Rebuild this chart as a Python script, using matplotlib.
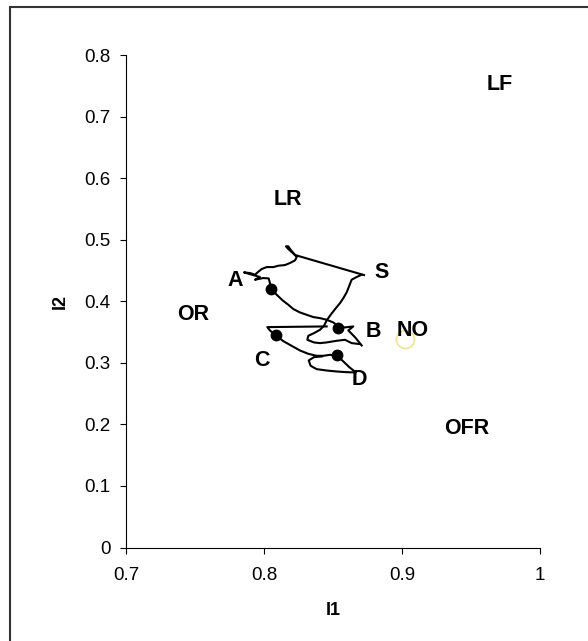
import numpy as np
import matplotlib.pyplot as plt
from matplotlib.patches import Rectangle
from matplotlib.ticker import FuncFormatter

plt.rcParams['font.family'] = ['Liberation Sans', 'DejaVu Sans']

# trajectory pieces (I1, I2)
seg1_i1 = [0.8725, 0.8225, 0.8176, 0.8159, 0.8176, 0.8193, 0.8237, 0.8225, 0.8188, 0.8152,
           0.8104, 0.8068, 0.8019, 0.7983, 0.7959, 0.7935, 0.7899, 0.7855, 0.7971, 0.7935,
           0.7995, 0.8034, 0.8043, 0.8048, 0.8092, 0.8135, 0.8176, 0.8213, 0.8261, 0.8309,
           0.8357, 0.8406, 0.8454, 0.8502, 0.8539, 0.8587, 0.8647, 0.8611, 0.8659, 0.8708]
seg1_i2 = [0.4425, 0.4751, 0.4848, 0.4892, 0.4892, 0.4837, 0.4718, 0.4664, 0.4621, 0.4588,
           0.4577, 0.4555, 0.4555, 0.4523, 0.4480, 0.4431, 0.4458, 0.4469, 0.4393, 0.4350,
           0.4377, 0.4371, 0.4295, 0.4198, 0.4106, 0.4014, 0.3943, 0.3873, 0.3818, 0.3780,
           0.3743, 0.3726, 0.3699, 0.3656, 0.3591, 0.3575, 0.3591, 0.3526, 0.3417, 0.3282]

seg2_i1 = [0.8708, 0.8671, 0.8635, 0.8618, 0.8599, 0.8575, 0.8551, 0.8515, 0.8483, 0.8454,
           0.8435, 0.8406, 0.8362, 0.8321, 0.8314, 0.8362, 0.8406, 0.8454, 0.8527, 0.8587,
           0.8635, 0.8696]
seg2_i2 = [0.4431, 0.4393, 0.4350, 0.4252, 0.4144, 0.4051, 0.3970, 0.3873, 0.3780, 0.3688,
           0.3602, 0.3537, 0.3482, 0.3439, 0.3374, 0.3331, 0.3320, 0.3331, 0.3358, 0.3374,
           0.3320, 0.3304]

seg3_i1 = [0.8454, 0.8024, 0.8043, 0.8087, 0.8140, 0.8200, 0.8261, 0.8321, 0.8382, 0.8430,
           0.8478, 0.8531, 0.8575, 0.8618, 0.8667, 0.8599, 0.8527, 0.8454, 0.8382, 0.8338,
           0.8324, 0.8362, 0.8418]
seg3_i2 = [0.3591, 0.3580, 0.3526, 0.3444, 0.3352, 0.3276, 0.3200, 0.3146, 0.3114, 0.3114,
           0.3130, 0.3114, 0.3022, 0.2929, 0.2843, 0.2848, 0.2859, 0.2875, 0.2897, 0.2951,
           0.3038, 0.3092, 0.3103]

# marked states A-D
dot_i1 = [0.8048, 0.8539, 0.8087, 0.8527]
dot_i2 = [0.4198, 0.3564, 0.3444, 0.3119]

# text labels
label_names = ['LF', 'LR', 'A', 'S', 'OR', 'B', 'NO', 'C', 'D', 'OFR']
label_i1 = [0.971, 0.8176, 0.7795, 0.8853, 0.7488, 0.8792, 0.9077, 0.7983, 0.8691, 0.947]
label_i2 = [0.752, 0.566, 0.4333, 0.4469, 0.379, 0.351, 0.3526, 0.3033, 0.2724, 0.1938]

# NO reference point
no_i1 = [0.9022]
no_i2 = [0.3385]

fig = plt.figure(figsize=(5.88, 6.41), dpi=100)
fig.patches.append(Rectangle((10 / 588, -0.5), 2, 1.5 - 7 / 641, transform=fig.transFigure,
                             fill=False, edgecolor='#333333', linewidth=1.5))
ax = fig.add_axes([126 / 588, 1 - 547.5 / 641, 414 / 588, 492.5 / 641])

for xs, ys in [(seg1_i1, seg1_i2), (seg2_i1, seg2_i2), (seg3_i1, seg3_i2)]:
    ax.plot(xs, ys, color='black', linewidth=1.5, solid_joinstyle='round')

ax.plot(dot_i1, dot_i2, 'o', color='black', markersize=7.5, linestyle='none')
ax.plot(no_i1, no_i2, 'o', markerfacecolor='none', markeredgecolor='#ece49a',
        markeredgewidth=1.2, markersize=13)

for name, x, y in zip(label_names, label_i1, label_i2):
    ax.text(x, y, name, ha='center', va='center', fontsize=15.5, fontweight='bold')

ax.set_xlim(0.7, 1.0)
ax.set_ylim(0, 0.8)
ax.set_xticks([0.7, 0.8, 0.9, 1.0])
ax.set_yticks(np.arange(0, 0.81, 0.1))
fmt = FuncFormatter(lambda v, p: f"{v:g}")
ax.xaxis.set_major_formatter(fmt)
ax.yaxis.set_major_formatter(fmt)
ax.tick_params(axis='both', direction='out', length=4, width=0.8, labelsize=13.5)
ax.tick_params(axis='x', pad=10)
ax.tick_params(axis='y', pad=7)

for side in ['top', 'right']:
    ax.spines[side].set_visible(False)
for side in ['left', 'bottom']:
    ax.spines[side].set_linewidth(0.8)

ax.set_xlabel('I1', fontsize=13, fontweight='bold', labelpad=13)
ax.set_ylabel('I2', fontsize=13, fontweight='bold', labelpad=11)

fig.savefig('out.png', dpi=100)
